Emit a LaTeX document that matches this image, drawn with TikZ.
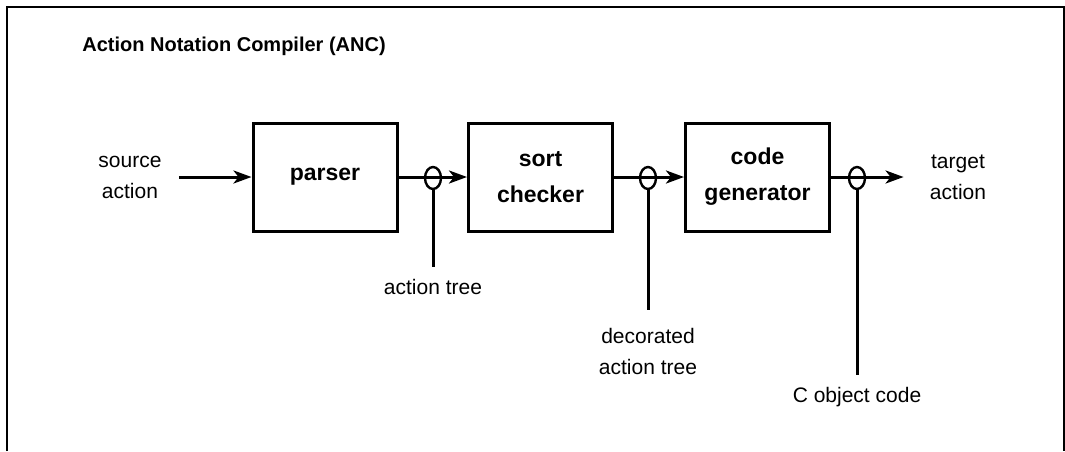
\documentclass[tikz,border=0pt]{standalone}
\usepackage{fontspec}
\setmainfont{Liberation Sans}
\usetikzlibrary{arrows.meta,positioning,shapes.geometric}

\begin{document}
\begin{tikzpicture}[x=0.5pt,y=-0.5pt,
    stage/.style={draw,line width=1.5pt,minimum width=72pt,minimum height=54pt,
      align=center,font=\fontsize{11.5}{18}\selectfont\bfseries},
    io/.style={align=center,inner sep=0pt,font=\fontsize{10.5}{15.5}\selectfont},
    flow/.style={line width=1.5pt,-{Stealth[length=9pt,width=6.5pt,inset=2.5pt]}},
    tap/.style={draw,ellipse,line width=1.2pt,minimum width=8pt,minimum height=11pt,inner sep=0pt},
    wire/.style={line width=1.5pt}]
  \useasboundingbox (0,0) rectangle (1065,451);

  % Frame
  \draw[line width=0.9pt] (7,451) -- (7,7) -- (1064,7) -- (1064,451);
  \node[anchor=base west,inner sep=0pt,font=\fontsize{10}{12}\selectfont\bfseries] (title) at (82,51)
    {Action Notation Compiler (ANC)};

  % Compiler stages
  \node[stage] (parser) at (325,177) {parser};
  \node[stage] (sort) at (540.5,177) {sort\\checker};
  \node[stage] (codegen) at (757.5,177) {code\\generator};

  \node[io,inner xsep=8.5pt] (src) at (130,177) {source\\action};
  \node[io,inner xsep=13pt] (tgt) at (958,177) {target\\action};

  \draw[flow] (src) -- (parser);
  \draw[flow] (parser) -- (sort);
  \draw[flow] (sort) -- (codegen);
  \draw[flow] (codegen) -- (tgt);

  % Intermediate results
  \node[tap] (tap1) at (433,178) {};
  \node[tap] (tap2) at (648,178) {};
  \node[tap] (tap3) at (857,178) {};
  \coordinate (end1) at (433,267);
  \coordinate (end2) at (648,310);
  \coordinate (end3) at (857,375);
  \draw[wire] (tap1.south) -- (end1);
  \draw[wire] (tap2.south) -- (end2);
  \draw[wire] (tap3.south) -- (end3);
  \node[io,below=6pt of end1] (tree) {action tree};
  \node[io,below=9pt of end2] (dectree) {decorated\\action tree};
  \node[io,below=6pt of end3] (ccode) {C object code};
\end{tikzpicture}
\end{document}
